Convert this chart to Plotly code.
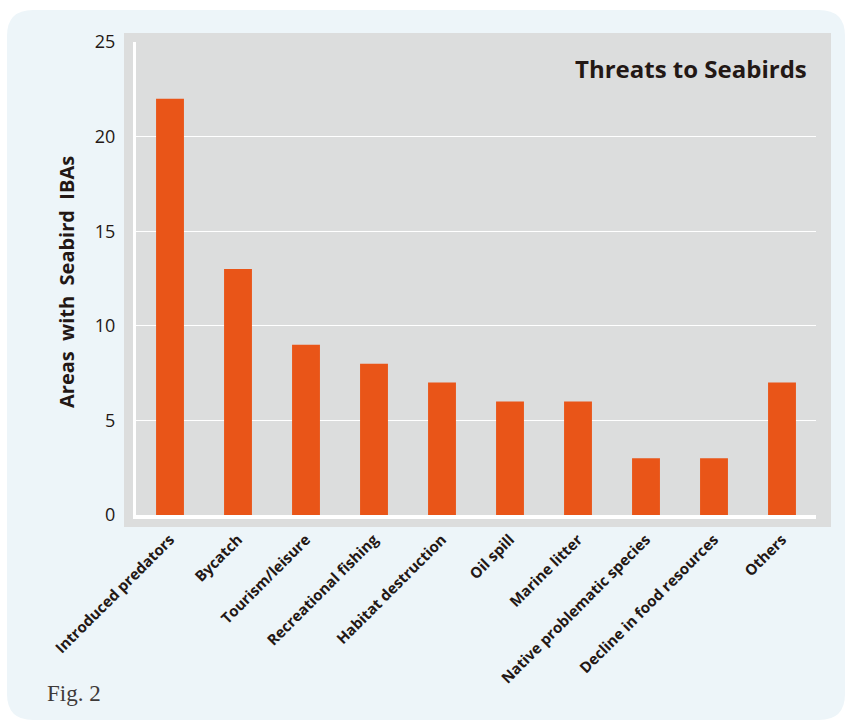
import plotly.graph_objects as go

categories = ["Introduced predators", "Bycatch", "Tourism/leisure", "Recreational fishing",
              "Habitat destruction", "Oil spill", "Marine litter",
              "Native problematic species", "Decline in food resources", "Others"]
areas = [22, 13, 9, 8, 7, 6, 6, 3, 3, 7]
y_ticks = [0, 5, 10, 15, 20, 25]

W, H = 846, 722
L, R, T, B = 136, 30, 42, 207
PW, PH = W - L - R, H - T - B

TEXT = "#231815"
ORANGE = "#E95518"
GREY = "#DCDDDD"
PANEL = "#EDF5F9"


def px(x):
    return (x - L) / PW


def py(y):
    return (H - B - y) / PH


def rounded_rect(x0, y0, x1, y1, r):
    rx, ry = r / PW, r / PH
    a, b, c, d = px(x0), px(x1), py(y0), py(y1)  # c top, d bottom
    return (f"M {a + rx},{c} L {b - rx},{c} Q {b},{c} {b},{c - ry} "
            f"L {b},{d + ry} Q {b},{d} {b - rx},{d} "
            f"L {a + rx},{d} Q {a},{d} {a},{d + ry} "
            f"L {a},{c - ry} Q {a},{c} {a + rx},{c} Z")


fig = go.Figure()
fig.add_trace(go.Bar(x=categories, y=areas, marker_color=ORANGE,
                     marker_line_width=0, showlegend=False, hoverinfo="x+y"))

fig.update_layout(
    width=W, height=H,
    margin=dict(l=L, r=R, t=T, b=B, autoexpand=False),
    paper_bgcolor="white",
    plot_bgcolor="rgba(0,0,0,0)",
    bargap=0.59,
    font=dict(family="Open Sans", color=TEXT),
    shapes=[
        dict(type="path", xref="paper", yref="paper", layer="below",
             path=rounded_rect(7, 10, 845, 720, 26),
             fillcolor=PANEL, line_width=0),
        dict(type="rect", xref="paper", yref="paper", layer="below",
             x0=px(124), x1=px(831), y0=py(527), y1=py(33),
             fillcolor=GREY, line_width=0),
    ],
    annotations=[
        dict(text="<b>Threats to Seabirds</b>", xref="paper", yref="paper",
             x=px(809), y=py(69), xanchor="right", yanchor="middle",
             showarrow=False, font=dict(size=24, color=TEXT, family="Open Sans")),
        dict(text="<b>Areas\u00a0\u00a0with\u00a0\u00a0Seabird\u00a0\u00a0IBAs</b>",
             xref="paper", yref="paper", x=px(66), y=py(282),
             xanchor="center", yanchor="middle", textangle=-90,
             showarrow=False, font=dict(size=20, color=TEXT, family="Open Sans")),
        dict(text="Fig. 2", xref="paper", yref="paper", x=px(45), y=py(693),
             xanchor="left", yanchor="middle", showarrow=False,
             font=dict(size=23, color="#3E3A39", family="Liberation Serif")),
    ],
)

fig.update_xaxes(
    showline=True, linecolor="white", linewidth=4,
    showgrid=False, ticks="", tickangle=-45,
    tickfont=dict(size=15, color=TEXT, family="Open Sans", weight="bold"),
    ticklabelstandoff=6,
)
fig.update_yaxes(
    range=[0, 25], tickvals=y_ticks,
    showline=True, linecolor="white", linewidth=3,
    showgrid=True, gridcolor="white", gridwidth=1.3,
    zeroline=False, ticks="",
    tickfont=dict(size=18, color=TEXT, family="Open Sans"),
    ticklabelstandoff=14,
)

fig.write_html("out.html", config={"displayModeBar": False},
               post_script="document.body.style.margin='0';")
